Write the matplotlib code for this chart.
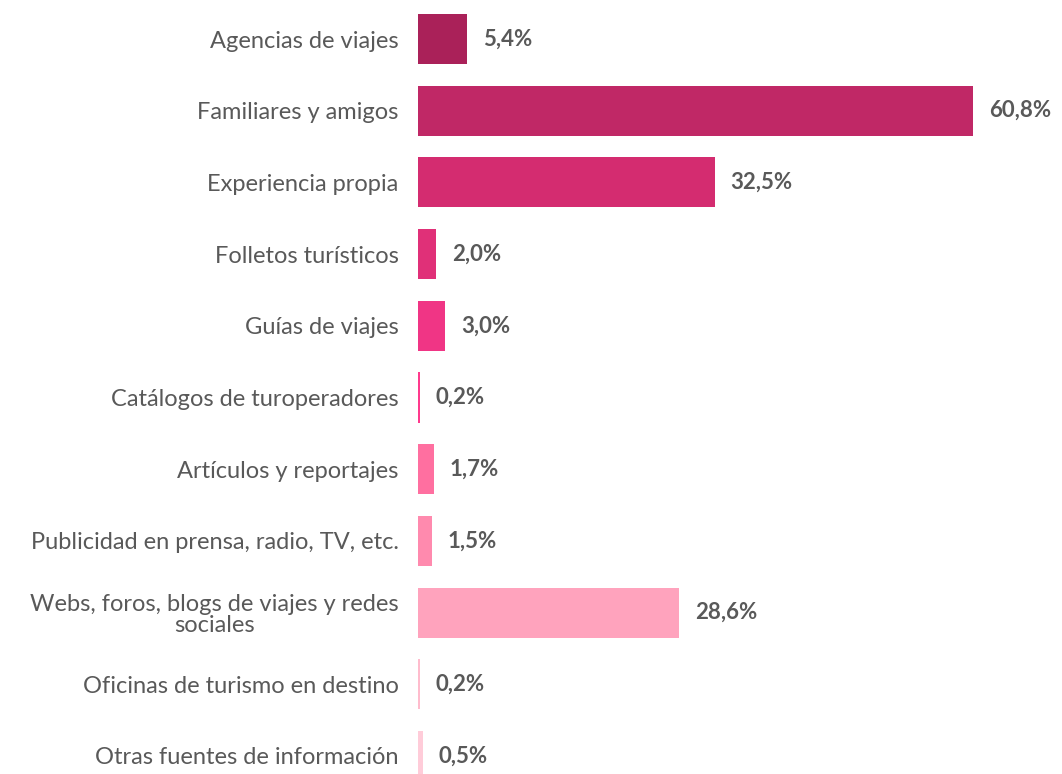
import matplotlib.pyplot as plt

# Datos
categorias = [
    'Agencias de viajes',
    'Familiares y amigos',
    'Experiencia propia',
    'Folletos turísticos',
    'Guías de viajes',
    'Catálogos de turoperadores',
    'Artículos y reportajes',
    'Publicidad en prensa, radio, TV, etc.',
    'Webs, foros, blogs de viajes y redes\nsociales',
    'Oficinas de turismo en destino',
    'Otras fuentes de información',
]
valores = [5.4, 60.8, 32.5, 2.0, 3.0, 0.2, 1.7, 1.5, 28.6, 0.2, 0.5]
colores = ['#AA2159', '#C02866', '#D42C70', '#E03078', '#F03585', '#FF3A8D',
           '#FF6FA0', '#FF8AAE', '#FFA3BD', '#FFBCCD', '#FFCCD9']

plt.rcParams['font.family'] = ['Lato', 'DejaVu Sans']

fig = plt.figure(figsize=(10.62, 7.74), dpi=100)
ax = fig.add_axes([418 / 1062, 0, 600 / 1062, 1])

pos = list(range(len(categorias)))
ax.barh(pos, valores, height=0.7, color=colores)

for y, v in zip(pos, valores):
    ax.text(v + 1.7, y, f'{v:.1f}%'.replace('.', ','), va='center', ha='left',
            fontsize=16, color='#595959', fontweight='bold')

ax.set_xlim(0, 600 / 9.13)
ax.set_ylim((774 - 39) / 71.7, -39 / 71.7)
ax.set_yticks(pos)
ax.set_yticklabels(categorias, fontsize=17, color='#595959', ha='right',
                   multialignment='center', linespacing=1.0)
ax.tick_params(axis='y', length=0, pad=14)
ax.set_xticks([])
for s in ax.spines.values():
    s.set_visible(False)

fig.savefig('out.png', dpi=100)
